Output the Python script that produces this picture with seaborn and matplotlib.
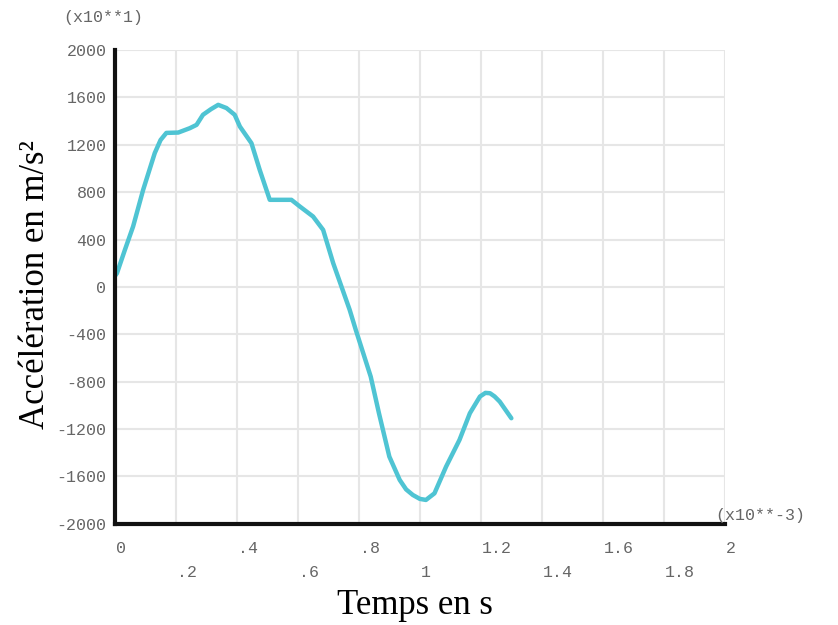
import numpy as np
import pandas as pd
import matplotlib.pyplot as plt
import seaborn as sns

# time in ms (x10**-3 s), acceleration in x10 m/s^2
t_ms = [0.0, 0.007, 0.033, 0.06, 0.093, 0.131, 0.15, 0.169, 0.208, 0.246, 0.268, 0.289,
        0.315, 0.339, 0.366, 0.393, 0.41, 0.448, 0.475, 0.508, 0.54, 0.579, 0.607, 0.65,
        0.683, 0.716, 0.77, 0.79, 0.839, 0.866, 0.9, 0.934, 0.955, 0.977, 1.0, 1.02,
        1.048, 1.086, 1.13, 1.164, 1.197, 1.215, 1.23, 1.245, 1.262, 1.3]
accel = [90, 115, 312, 510, 820, 1130, 1240, 1300, 1303, 1340, 1368, 1453,
         1500, 1537, 1510, 1453, 1354, 1213, 988, 735, 735, 735, 678, 594,
         481, 200, -194, -363, -758, -1067, -1433, -1630, -1710, -1757, -1790, -1799,
         -1743, -1518, -1292, -1067, -926, -895, -898, -925, -969, -1109]

x_ticks = [0, 0.2, 0.4, 0.6, 0.8, 1.0, 1.2, 1.4, 1.6, 1.8, 2.0]
x_labels = ["0", ".2", ".4", ".6", ".8", "1", "1.2", "1.4", "1.6", "1.8", "2"]
y_ticks = list(range(-2000, 2001, 400))

df = pd.DataFrame({"t": t_ms, "a": accel})

sns.set_theme(style="whitegrid")
plt.rcParams["font.family"] = ["DejaVu Sans"]

fig = plt.figure(figsize=(8.38, 6.25), dpi=100)
ax = fig.add_axes([0.137, 0.162, 0.728, 0.758])

sns.lineplot(data=df, x="t", y="a", ax=ax, color="#4fc4d3", linewidth=3.2)

ax.set_xlim(0, 2)
ax.set_ylim(-2000, 2000)
ax.set_xticks(x_ticks)
ax.set_xticklabels([])
ax.set_yticks(y_ticks)
ax.set_yticklabels([str(v) for v in y_ticks], fontfamily="Liberation Mono",
                   fontsize=12, color="#666666")
ax.tick_params(axis="y", length=0, pad=6)
ax.tick_params(axis="x", length=0)

# staggered x tick labels, left aligned on the grid line
for i, (xv, lab) in enumerate(zip(x_ticks, x_labels)):
    ax.annotate(lab, xy=(xv, 0), xycoords=("data", "axes fraction"),
                xytext=(1, -18 if i % 2 == 0 else -35), textcoords="offset points",
                ha="left", va="center", fontfamily="Liberation Mono",
                fontsize=12, color="#666666")

ax.grid(True, color="#e6e6e6", linewidth=1.5)
ax.set_facecolor("white")
for side in ["top", "right"]:
    ax.spines[side].set_visible(False)
for side in ["left", "bottom"]:
    ax.spines[side].set_color("#111111")
    ax.spines[side].set_linewidth(3)

ax.set_xlabel("")
ax.set_ylabel("")

fig.text(0.076, 0.972, "(x10**1)", fontfamily="Liberation Mono", fontsize=12,
         color="#666666", ha="left", va="center")
fig.text(0.853, 0.175, "(x10**-3)", fontfamily="Liberation Mono", fontsize=12,
         color="#666666", ha="left", va="center")

fig.text(0.495, 0.032, "Temps en s", fontfamily="Liberation Serif", fontsize=25,
         color="black", ha="center", va="center")
fig.text(0.042, 0.545, "Accélération en m/s²", fontfamily="Liberation Serif",
         fontsize=25, color="black", ha="center", va="center", rotation=90)

fig.savefig("out.png", dpi=100, facecolor="white")
